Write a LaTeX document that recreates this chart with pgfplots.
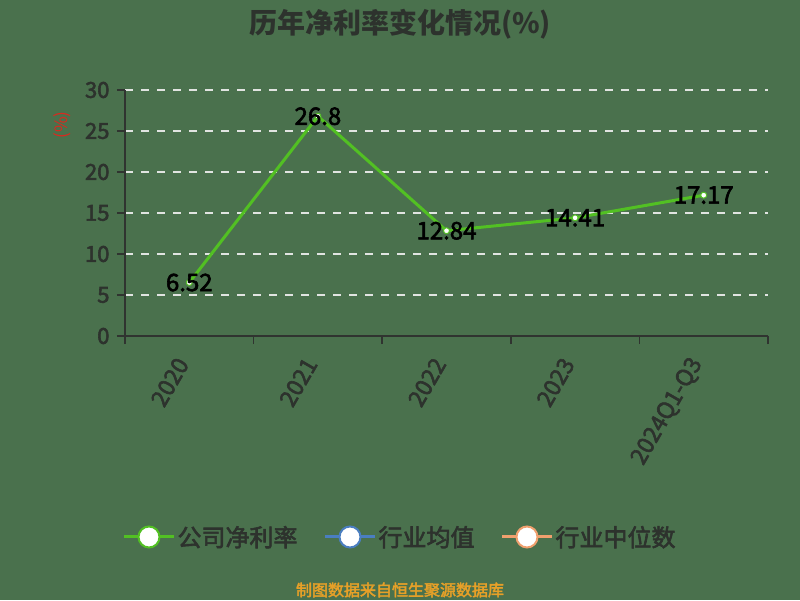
\documentclass[border=0pt]{standalone}
\usepackage{pgfplots}
\pgfplotsset{compat=1.18}
\usepackage{fontspec}
\setmainfont{Noto Sans CJK SC}
\newfontfamily\semib{Noto Sans CJK SC}[FakeBold=2.5]

\definecolor{bg}{RGB}{74,113,77}
\definecolor{axisc}{RGB}{48,52,48}
\definecolor{txt}{RGB}{45,50,45}
\definecolor{gridc}{RGB}{225,228,225}
\definecolor{netc}{RGB}{82,192,35}
\definecolor{avgc}{RGB}{74,126,192}
\definecolor{medc}{RGB}{240,160,110}
\definecolor{srcc}{RGB}{230,160,40}
\definecolor{ylab}{RGB}{220,40,30}

\begin{document}
\begin{tikzpicture}
\fill[bg] (0,0) rectangle (800pt,600pt);
\path[use as bounding box] (0,0) rectangle (800pt,600pt);
\begin{axis}[
  at={(125pt,264pt)}, anchor=south west,
  scale only axis, width=643pt, height=246pt,
  xmin=-0.5, xmax=4.5, ymin=0, ymax=30,
  axis x line*=bottom, axis y line*=left,
  axis line style={draw=axisc, line width=1.5pt, -},
  xtick={0,1,2,3,4},
  xticklabels={2020,2021,2022,2023,2024Q1-Q3},
  minor xtick={-0.5,0.5,1.5,2.5,3.5,4.5},
  ytick={0,5,...,30},
  tick align=outside,
  major tick length=8pt, minor tick length=8pt,
  major x tick style={draw=none},
  tick style={draw=axisc, line width=1.5pt},
  ymajorgrids,
  grid style={draw=gridc, line width=1.5pt, dash pattern=on 8pt off 8pt},
  /pgf/number format/assume math mode=true,
  yticklabel style={font=\semib\fontsize{22}{26}\selectfont, text=txt, xshift=-4pt},
  xticklabel style={font=\semib\fontsize{23}{26}\selectfont, text=txt, xshift=-5pt, yshift=-13pt, rotate=60, anchor=east},
  ylabel={(\%)},
  ylabel style={at={(rel axis cs:-0.098,0.858)}, anchor=center, rotate=0,
    font=\fontsize{17}{19}\selectfont, text=ylab},
  title={\bfseries 历年净利率变化情况(\%)},
  title style={at={(rel axis cs:0.4277,1.245)}, anchor=center,
    font=\fontsize{28}{32}\selectfont, text=txt},
  legend columns=3,
  legend style={at={(rel axis cs:0.4277,-0.817)}, anchor=center,
    draw=none, fill=none, font=\semib\fontsize{24}{28}\selectfont, text=txt,
    /tikz/every even column/.append style={column sep=24pt}},
  legend image code/.code={
    \draw[#1, line width=3pt] (0pt,0pt) -- (50pt,0pt);
    \draw[#1, line width=2pt, fill=white] (25pt,0pt) circle (10.5pt);
  },
]
\addplot[color=netc, line width=3pt, mark=*, mark size=3pt,
  mark options={fill=white, draw=netc, line width=1pt},
  nodes near coords,
  every node near coord/.append style={anchor=center, text=black,
    font=\semib\fontsize{24}{27}\selectfont}]
coordinates {
  (0,6.52) (1,26.8) (2,12.84) (3,14.41) (4,17.17)
};
\addlegendentry{公司净利率}
\addlegendimage{color=avgc}
\addlegendentry{行业均值}
\addlegendimage{color=medc}
\addlegendentry{行业中位数}
\end{axis}
\node[text=srcc, font=\semib\fontsize{16}{18}\selectfont] at (400pt,10pt) {制图数据来自恒生聚源数据库};
\end{tikzpicture}
\end{document}
